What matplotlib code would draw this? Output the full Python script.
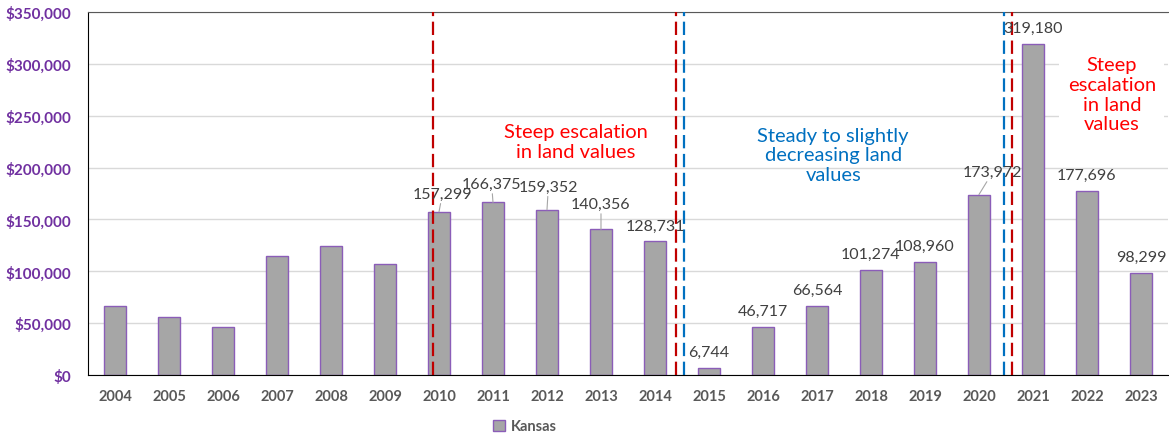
import matplotlib.pyplot as plt
from matplotlib.ticker import FuncFormatter
from matplotlib.patches import Patch

plt.rcParams['font.family'] = ['Lato', 'DejaVu Sans']

# Data
years = [str(y) for y in range(2004, 2024)]
values = [66500, 56000, 46500, 115000, 124500, 106800, 157299, 166375, 159352, 140356,
          128731, 6744, 46717, 66564, 101274, 108960, 173972, 319180, 177696, 98299]
labelled = [False] * 6 + [True] * 14
series_name = 'Kansas'

# label offsets in points (dx, dy) and whether a leader line is drawn
label_offsets = {6: (2.5, 13, True), 7: (-1, 13.3, True), 8: (1, 16.6, True),
                 9: (0, 18.3, True), 16: (10, 16.3, True)}

purple = '#7030A0'
fig = plt.figure(figsize=(11.69, 4.39), dpi=100)
ax = fig.add_axes([0.0753, 0.1435, 0.9238, 0.8269])

x = list(range(len(years)))
ax.bar(x, values, width=0.41, color='#A6A6A6', edgecolor='#8B5DB8', linewidth=1.0, zorder=3)

ax.set_xlim(-0.5, len(years) - 0.5)
ax.set_ylim(0, 350000)
ax.set_yticks(range(0, 350001, 50000))
ax.yaxis.set_major_formatter(FuncFormatter(lambda v, p: f'${v:,.0f}'))
ax.set_xticks(x)
ax.set_xticklabels(years)
ax.tick_params(axis='y', length=0, labelsize=11, labelcolor=purple, pad=12)
ax.tick_params(axis='x', length=0, labelsize=10.5, labelcolor='#595959', pad=10)
for t in ax.get_yticklabels() + ax.get_xticklabels():
    t.set_fontweight('bold')

ax.grid(axis='y', color='#D9D9D9', linewidth=1, zorder=0)
ax.spines['right'].set_visible(False)
ax.spines['top'].set_color('#595959')
ax.spines['left'].set_color('black')
ax.spines['bottom'].set_color('black')
ax.spines['bottom'].set_zorder(4)

# data labels
for i, (v, show) in enumerate(zip(values, labelled)):
    if not show:
        continue
    dx, dy, leader = label_offsets.get(i, (0, 11.5, False))
    arrow = dict(arrowstyle='-', color='#A6A6A6', lw=0.8, shrinkA=0, shrinkB=0) if leader else None
    ax.annotate(f'{v:,}', xy=(i, v), xytext=(dx, dy), textcoords='offset points',
                ha='center', va='center', fontsize=11.5, color='#404040',
                arrowprops=arrow, zorder=5)

# period markers
red = '#C00000'
blue = '#0070C0'
dash = (0, (6, 2.5))
for xpos, col in [(5.885, red), (10.39, red), (10.53, blue), (16.46, blue), (16.62, red)]:
    ax.axvline(xpos, color=col, linestyle=dash, linewidth=1.6, zorder=4)

ax.text(8.53, 225400, 'Steep escalation\nin land values', color='#FF0000', fontsize=14.5,
        ha='center', va='center', linespacing=1.2, zorder=5)
ax.text(13.3, 212200, 'Steady to slightly\ndecreasing land\nvalues', color=blue, fontsize=14.5,
        ha='center', va='center', linespacing=1.2, zorder=5)
ax.text(18.46, 270700, 'Steep\nescalation\nin land\nvalues', color='#FF0000', fontsize=14.5,
        ha='center', va='center', linespacing=1.2, zorder=5,
        bbox=dict(facecolor='white', edgecolor='none', pad=6))

handle = Patch(facecolor='#A6A6A6', edgecolor='#8B5DB8', linewidth=1)
leg = fig.legend([handle], [series_name], loc='center', bbox_to_anchor=(0.449, 0.027),
                 frameon=False, handlelength=0.8, handleheight=0.8, handletextpad=0.4,
                 prop={'weight': 'bold', 'size': 10.5})
for t in leg.get_texts():
    t.set_color('#595959')

fig.savefig('out.png', dpi=100)
